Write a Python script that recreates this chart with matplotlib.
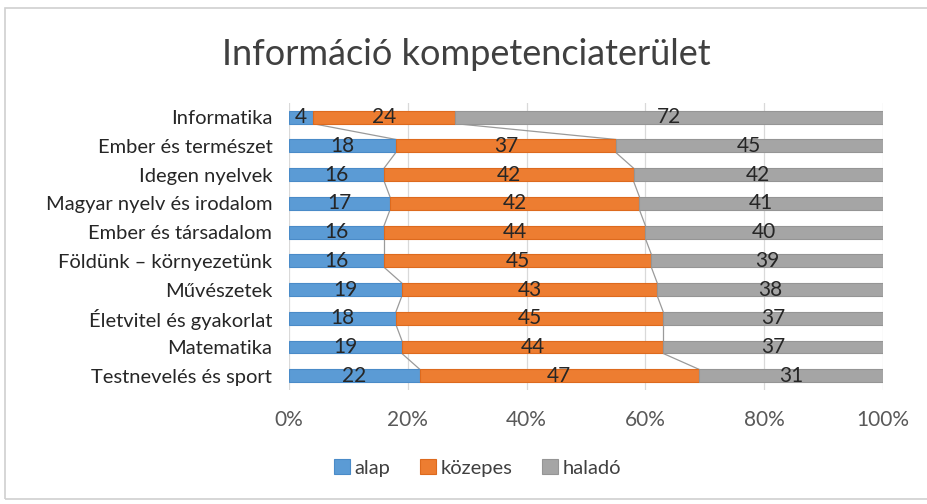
import numpy as np
import matplotlib.pyplot as plt
from matplotlib.patches import Rectangle

plt.rcParams['font.family'] = ['Lato', 'DejaVu Sans']

categories = ["Informatika", "Ember és természet", "Idegen nyelvek",
              "Magyar nyelv és irodalom", "Ember és társadalom",
              "Földünk – környezetünk", "Művészetek", "Életvitel és gyakorlat",
              "Matematika", "Testnevelés és sport"]
alap = [4, 18, 16, 17, 16, 16, 19, 18, 19, 22]
kozepes = [24, 37, 42, 42, 44, 45, 43, 45, 44, 47]
halado = [72, 45, 42, 41, 40, 39, 38, 37, 37, 31]
series_names = ["alap", "közepes", "haladó"]
colors = ["#5B9BD5", "#ED7D31", "#A5A5A5"]
edges = ["#4A8BC8", "#DD6A1E", "#959595"]

fig = plt.figure(figsize=(9.27, 5.04), dpi=100)
ax = fig.add_axes([0.3118, 0.226, 0.6407, 0.57])

data = np.array([alap, kozepes, halado], dtype=float)
totals = data.sum(axis=0)
pct = data / totals * 100
y = np.arange(len(categories))
h = 0.45

left = np.zeros(len(categories))
for i, name in enumerate(series_names):
    ax.barh(y, pct[i], left=left, height=h, color=colors[i],
            edgecolor=edges[i], linewidth=0.8, label=name, zorder=3)
    for j in range(len(categories)):
        ax.text(left[j] + pct[i][j] / 2, y[j], str(int(data[i][j])),
                ha='center', va='center', fontsize=15, color='#262626', zorder=5)
    left = left + pct[i]

# series lines between bars
cum = np.cumsum(pct, axis=0)
for k in range(2):
    for j in range(len(categories) - 1):
        ax.plot([cum[k][j], cum[k][j + 1]], [y[j] + h / 2, y[j + 1] - h / 2],
                color='#9a9a9a', linewidth=0.9, zorder=2)

ax.set_xlim(0, 100)
ax.set_ylim(len(categories) - 0.5, -0.5)
ax.set_yticks(y)
ax.set_yticklabels(categories, fontsize=14.5, color='#262626')
ax.set_xticks([0, 20, 40, 60, 80, 100])
ax.set_xticklabels(["0%", "20%", "40%", "60%", "80%", "100%"], fontsize=15, color='#595959')
ax.tick_params(axis='both', length=0)
ax.tick_params(axis='x', pad=14)
ax.tick_params(axis='y', pad=12)
ax.grid(axis='x', color='#d9d9d9', linewidth=0.9, zorder=0)
for s in ax.spines.values():
    s.set_visible(False)

fig.suptitle("Információ kompetenciaterület", x=0.503, y=0.925, fontsize=26, color='#404040')

leg = fig.legend(loc='center', bbox_to_anchor=(0.515, 0.072), ncol=3, frameon=False,
                 fontsize=14.5, handlelength=0.8, handleheight=0.8,
                 handletextpad=0.2, columnspacing=1.5)
for t in leg.get_texts():
    t.set_color('#404040')

fig.patches.append(Rectangle((5 / 927, 5 / 504), 1.0, 491 / 504, transform=fig.transFigure,
                             fill=False, edgecolor='#d0d0d0', linewidth=1.2))

fig.savefig("out.png", dpi=100)
